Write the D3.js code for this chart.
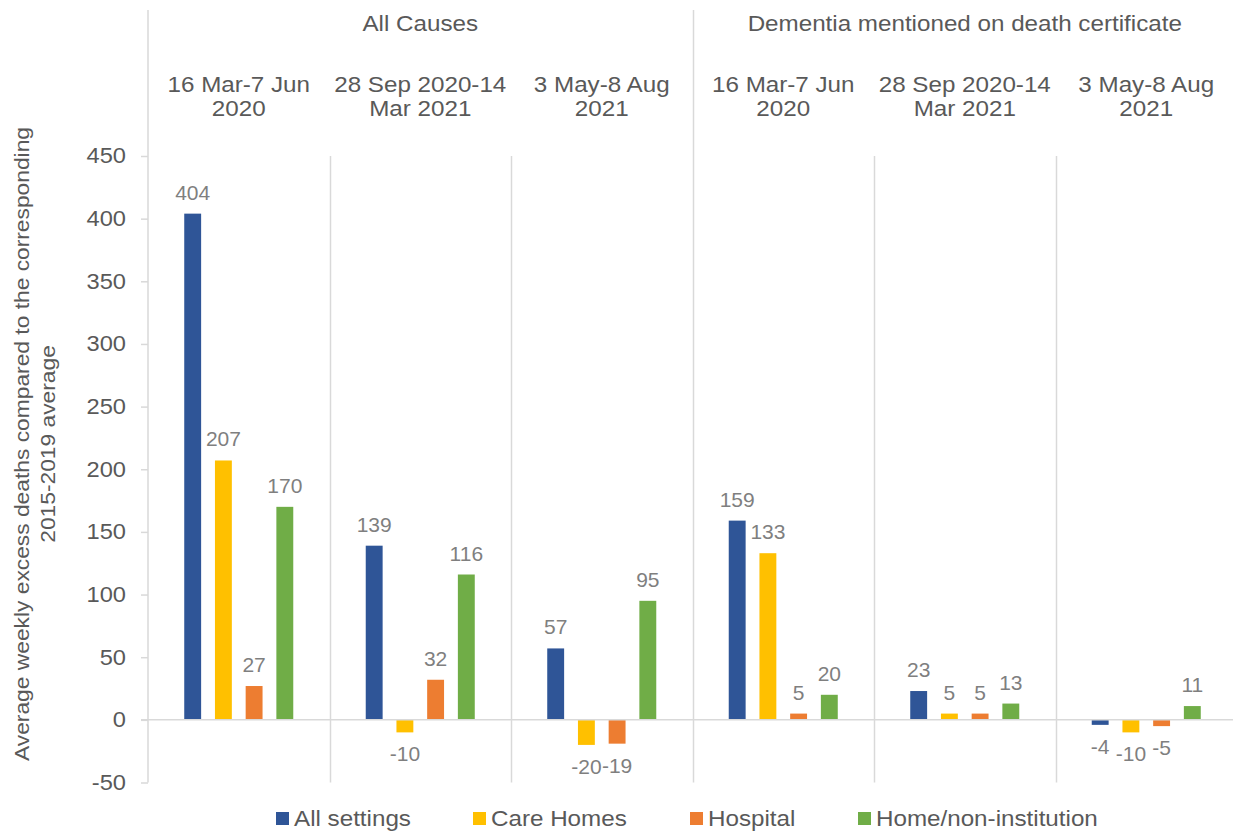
<!DOCTYPE html>
<html>
<head>
<meta charset="utf-8">
<script src="https://cdn.jsdelivr.net/npm/d3@7"></script>
<style>
  html, body { margin: 0; padding: 0; background: #fff; }
  svg { display: block; font-family: "Liberation Sans", Arial, sans-serif; }
</style>
</head>
<body>
<svg id="chart" width="1233" height="832"></svg>
<script>
// Cause groups and the periods shown under each
const causes = ["All Causes", "Dementia mentioned on death certificate"];
const periods = [
  ["16 Mar-7 Jun", "2020"],
  ["28 Sep 2020-14", "Mar 2021"],
  ["3 May-8 Aug", "2021"]
];
const series = ["All settings", "Care Homes", "Hospital", "Home/non-institution"];
const seriesColors = ["#2F5597", "#FFC000", "#ED7D31", "#70AD47"];

// Average weekly excess deaths, one row per series, one column per cause/period
const allSettings = [404, 139, 57, 159, 23, -4];
const careHomes   = [207, -10, -20, 133, 5, -10];
const hospital    = [27, 32, -19, 5, 5, -5];
const homeNonInst = [170, 116, 95, 20, 13, 11];
const seriesValues = [allSettings, careHomes, hospital, homeNonInst];

const yTicks = [-50, 0, 50, 100, 150, 200, 250, 300, 350, 400, 450];
const yTitle = ["Average weekly excess deaths compared to the corresponding", "2015-2019 average"];

const svg = d3.select("#chart");
const plotLeft = 148, plotRight = 1237, plotTop = 156, plotBottom = 782.5;
const textColor = "#595959", labelColor = "#7f7f7f", lineColor = "#d9d9d9";
const sx = 1.1; // slightly widened lettering

// Horizontal text helper: text anchored at (x, y), widened around its anchor
function addText(parent, x, y, str, opts) {
  const k = opts.stretch || sx;
  return parent.append("text")
    .attr("transform", `translate(${x},${y}) scale(${k},1)`)
    .attr("text-anchor", opts.anchor || "start")
    .attr("font-size", opts.size || 22)
    .attr("fill", opts.color || textColor)
    .text(str);
}

// Six column keys: cause index x period index
const columns = [];
causes.forEach((c, ci) => periods.forEach((p, pi) => columns.push({ ci, pi, key: ci + "-" + pi })));

const x0 = d3.scaleBand().domain(columns.map(d => d.key)).range([plotLeft, plotRight]).padding(0);
const x1 = d3.scaleBand().domain(series).range([0, x0.bandwidth()]).paddingInner(0.45).paddingOuter(1.18);
const y = d3.scaleLinear().domain([-50, 450]).range([plotBottom, plotTop]);

// Separator lines between columns
columns.forEach((col, i) => {
  if (i === 0) return;
  const xx = Math.round(x0(col.key)) + 0.5;
  svg.append("line")
    .attr("x1", xx).attr("x2", xx)
    .attr("y1", col.pi === 0 ? 10 : plotTop).attr("y2", plotBottom)
    .attr("stroke", lineColor).attr("stroke-width", 1.5);
});

// Y axis
const yAxis = d3.axisLeft(y).tickValues(yTicks).tickSize(7).tickPadding(16).tickFormat(d => String(d));
const yg = svg.append("g").attr("transform", `translate(${plotLeft},0)`).call(yAxis);
yg.select(".domain").remove();
yg.selectAll(".tick line").attr("stroke", lineColor).attr("stroke-width", 1.5);
yg.selectAll(".tick text")
  .attr("fill", textColor).attr("font-size", 21.5)
  .attr("font-family", "Liberation Sans, Arial, sans-serif")
  .attr("x", 0)
  .attr("transform", `translate(-22,0) scale(${sx},1)`);
svg.append("line")
  .attr("x1", plotLeft).attr("x2", plotLeft).attr("y1", 10).attr("y2", plotBottom)
  .attr("stroke", lineColor).attr("stroke-width", 1.5);

// Bars
const barG = svg.append("g");
series.forEach((s, si) => {
  barG.selectAll(null)
    .data(seriesValues[si].map((v, i) => ({ v, col: columns[i] })))
    .join("rect")
    .attr("x", d => x0(d.col.key) + x1(s))
    .attr("width", x1.bandwidth())
    .attr("y", d => Math.min(y(d.v), y(0)))
    .attr("height", d => Math.abs(y(d.v) - y(0)))
    .attr("fill", seriesColors[si]);
});

// Zero line
svg.append("line")
  .attr("x1", plotLeft - 7).attr("x2", plotRight).attr("y1", y(0)).attr("y2", y(0))
  .attr("stroke", lineColor).attr("stroke-width", 1.5);

// Value labels
const labelG = svg.append("g");
series.forEach((s, si) => {
  seriesValues[si].forEach((v, i) => {
    const col = columns[i];
    const cx = x0(col.key) + x1(s) + x1.bandwidth() / 2;
    const ly = v >= 0 ? y(v) - 14 : y(v) + 29;
    addText(labelG, cx, ly, v, { anchor: "middle", size: 21, color: labelColor, stretch: 1.0 });
  });
});

// Cause headers
causes.forEach((c, ci) => {
  const a = x0(ci + "-0"), b = x0(ci + "-2") + x0.bandwidth();
  addText(svg, (a + b) / 2, 31, c, { anchor: "middle", size: 22 });
});

// Period labels
columns.forEach(col => {
  const cx = x0(col.key) + x0.bandwidth() / 2;
  periods[col.pi].forEach((line, li) => {
    addText(svg, cx, 92 + li * 24, line, { anchor: "middle", size: 22 });
  });
});

// Y axis title, lengthened along its reading direction
const cy = 444;
yTitle.forEach((line, i) => {
  svg.append("text")
    .attr("transform", `translate(${29 + i * 26},${cy}) rotate(-90) scale(1.085,1)`)
    .attr("text-anchor", "middle").attr("font-size", 21).attr("fill", textColor)
    .text(line);
});

// Legend
const legendX = [276, 473, 690, 858];
series.forEach((s, si) => {
  const g = svg.append("g").attr("transform", `translate(${legendX[si]},0)`);
  g.append("rect").attr("x", 0).attr("y", 812).attr("width", 13).attr("height", 13).attr("fill", seriesColors[si]);
  addText(g, 18, 826, s, { anchor: "start", size: 22 });
});
</script>
</body>
</html>
